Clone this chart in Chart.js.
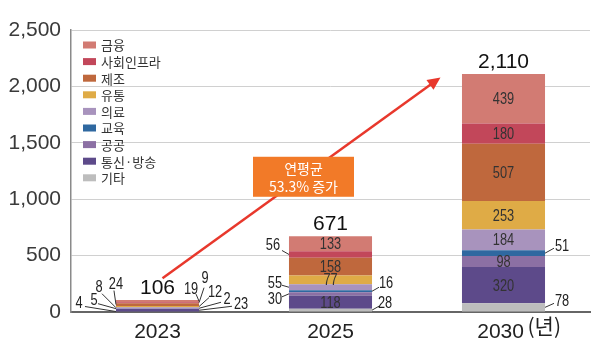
<!DOCTYPE html>
<html><head><meta charset="utf-8">
<script src="https://cdn.jsdelivr.net/npm/chart.js@4/dist/chart.umd.min.js"></script>
<style>html,body{margin:0;padding:0;background:#fff}#wrap{width:600px;height:341px;position:relative}</style>
</head><body><div id="wrap"><canvas id="c" width="600" height="341"></canvas></div>
<script>
// ---- data ----
const categories = ['2023', '2025', '2030'];
const xUnit = '(년)';
const seriesNames = ['기타', '통신·방송', '공공', '교육', '의료', '유통', '제조', '사회인프라', '금융']; // bottom -> top
const etc = [4, 28, 78];
const telecom = [23, 118, 320];
const publicSector = [5, 30, 98];
const education = [2, 16, 51];
const medical = [8, 55, 184];
const retail = [12, 77, 253];
const manufacturing = [24, 158, 507];
const infra = [9, 56, 180];
const finance = [19, 133, 439];
const totals = [106, 671, 2110];
const yTicks = [0, 500, 1000, 1500, 2000, 2500];
const growthText = ['연평균', '53.3% 증가'];

// ---- styles ----
const seriesValues = [etc, telecom, publicSector, education, medical, retail, manufacturing, infra, finance];
const colors = ['#bdbdbd', '#5d4a8a', '#8c70a4', '#2f68a0', '#a893bd', '#dfab46', '#bf683d', '#c2475a', '#d27b73'];
const SANS = '"Liberation Sans", Arial, sans-serif';
const KR = '"Noto Sans CJK KR", "Noto Sans", sans-serif';

// outside value labels: [series, category, side, textDx, textDy, lineDx, lineDy]
const outside = [
  [0,0,'L',-37,-8,-31,-5],[2,0,'L',-22,-8,-18,-5],[4,0,'L',-17,-20,-14,-14],[6,0,'L',0,-20,-2,-14],
  [8,0,'R',-8,-12,-3,-7],[7,0,'R',6,-24,5,-15],[5,0,'R',16,-14,10,-9],[3,0,'R',28,-9,22,-6],[1,0,'R',42,-6,33,-4],
  [7,1,'L',-16,-9,-7,-4],[4,1,'L',-14,-4,-7,-2],[2,1,'L',-14,6,-7,3],[3,1,'R',14,-8,7,-4],[0,1,'R',13,-7,7,-4],
  [3,2,'R',17,-7,9,-5],[0,2,'R',17,-6,9,-4]
];

function narrowText(ctx, t, x, y, color) {
  ctx.save();
  ctx.translate(x, y);
  ctx.scale(0.8, 1);
  ctx.fillStyle = color;
  ctx.font = '16px ' + SANS;
  ctx.textAlign = 'center';
  ctx.textBaseline = 'middle';
  ctx.fillText(t, 0, 0);
  ctx.restore();
}

const labelPlugin = {
  id: 'labels',
  afterDatasetsDraw(chart) {
    const ctx = chart.ctx;
    ctx.save();
    // inside labels
    chart.data.datasets.forEach((ds, si) => {
      const meta = chart.getDatasetMeta(si);
      meta.data.forEach((bar, ci) => {
        if (outside.some(o => o[0] === si && o[1] === ci)) return;
        narrowText(ctx, String(ds.data[ci]), bar.x, (bar.y + bar.base) / 2 + 1, '#333');
      });
    });
    // outside labels with leader lines
    outside.forEach(([si, ci, side, tx, ty, lx, ly]) => {
      const bar = chart.getDatasetMeta(si).data[ci];
      const ex = side === 'L' ? bar.x - bar.width / 2 : bar.x + bar.width / 2;
      const ey = (bar.y + bar.base) / 2;
      ctx.strokeStyle = '#333';
      ctx.lineWidth = 1;
      ctx.beginPath();
      ctx.moveTo(ex, ey);
      ctx.lineTo(ex + lx, ey + ly);
      ctx.stroke();
      narrowText(ctx, String(chart.data.datasets[si].data[ci]), ex + tx, ey + ty, '#222');
    });
    // totals
    const topMeta = chart.getDatasetMeta(chart.data.datasets.length - 1);
    ctx.textAlign = 'center';
    ctx.textBaseline = 'alphabetic';
    ctx.fillStyle = '#111';
    ctx.font = '21px ' + SANS;
    topMeta.data.forEach((bar, ci) => {
      ctx.fillText(totals[ci].toLocaleString('en-US'), bar.x, bar.y - 6);
    });
    // unit after last category
    const xs = chart.scales.x;
    const lastX = xs.getPixelForValue(categories.length - 1);
    ctx.font = '21px ' + KR;
    ctx.textAlign = 'left';
    ctx.fillStyle = '#222';
    ctx.fillText(xUnit, lastX + 24, 334);
    ctx.restore();
  },
  afterDraw(chart) {
    const ctx = chart.ctx;
    const xs = chart.scales.x, ys = chart.scales.y;
    ctx.save();
    // legend
    const names = seriesNames.slice().reverse();
    const cols = colors.slice().reverse();
    names.forEach((n, i) => {
      const cy = 45 + i * 16.6;
      ctx.fillStyle = cols[i];
      ctx.fillRect(83, cy - 3.5, 13, 7);
      ctx.fillStyle = '#333';
      ctx.font = '13px ' + KR;
      ctx.textAlign = 'left';
      ctx.textBaseline = 'middle';
      ctx.fillText(n, 101, cy + 0.5);
    });
    // growth arrow
    const x0 = xs.getPixelForValue(0) + 5, y0 = ys.getPixelForValue(300);
    const x1 = xs.getPixelForValue(2) - 63, y1 = ys.getPixelForValue(2080);
    const ang = Math.atan2(y1 - y0, x1 - x0);
    const hl = 13, hw = 6;
    ctx.strokeStyle = '#e8382c';
    ctx.fillStyle = '#e8382c';
    ctx.lineWidth = 2.5;
    ctx.beginPath();
    ctx.moveTo(x0, y0);
    ctx.lineTo(x1 - hl * 0.8 * Math.cos(ang), y1 - hl * 0.8 * Math.sin(ang));
    ctx.stroke();
    ctx.beginPath();
    ctx.moveTo(x1, y1);
    ctx.lineTo(x1 - hl * Math.cos(ang) + hw * Math.sin(ang), y1 - hl * Math.sin(ang) - hw * Math.cos(ang));
    ctx.lineTo(x1 - hl * Math.cos(ang) - hw * Math.sin(ang), y1 - hl * Math.sin(ang) + hw * Math.cos(ang));
    ctx.closePath();
    ctx.fill();
    // label box at arrow midpoint
    const mx = (x0 + x1) / 2 + 2, my = (y0 + y1) / 2 - 1;
    const bw = 101, bh = 40;
    ctx.fillStyle = '#f27a28';
    ctx.fillRect(mx - bw / 2, my - bh / 2, bw, bh);
    ctx.fillStyle = '#fff';
    ctx.font = '14px ' + KR;
    ctx.textAlign = 'center';
    ctx.textBaseline = 'middle';
    ctx.fillText(growthText[0], mx, my - 8);
    ctx.fillText(growthText[1], mx, my + 10);
    ctx.restore();
  }
};

new Chart(document.getElementById('c'), {
  type: 'bar',
  data: {
    labels: categories,
    datasets: seriesNames.map((n, i) => ({
      label: n,
      data: seriesValues[i],
      backgroundColor: colors[i],
      borderWidth: 0,
      barPercentage: 0.48,
      categoryPercentage: 1
    }))
  },
  options: {
    responsive: false,
    animation: false,
    devicePixelRatio: 1,
    layout: { padding: { top: 30, right: 10, left: 0, bottom: 0 } },
    plugins: { legend: { display: false }, tooltip: { enabled: false } },
    scales: {
      x: {
        stacked: true,
        grid: { display: false },
        border: { color: '#666', width: 2 },
        ticks: { color: '#222', font: { family: SANS, size: 21 }, padding: 0,
          callback: function(v, i) { return i === 2 ? '2030 ' : this.getLabelForValue(v); } },
        afterFit(s) { s.height = 29; }
      },
      y: {
        stacked: true,
        min: 0, max: yTicks[yTicks.length - 1],
        afterBuildTicks(s) { s.ticks = yTicks.map(v => ({ value: v })); },
        grid: { color: '#d0d0d0', lineWidth: 1, drawTicks: false },
        border: { color: '#8a8a8a', width: 1.5 },
        ticks: { color: '#3a3a3a', font: { family: SANS, size: 21 }, padding: 10,
          callback: v => Number(v).toLocaleString('en-US') },
        afterFit(s) { s.width = 71; }
      }
    }
  },
  plugins: [labelPlugin]
});
</script></body></html>
